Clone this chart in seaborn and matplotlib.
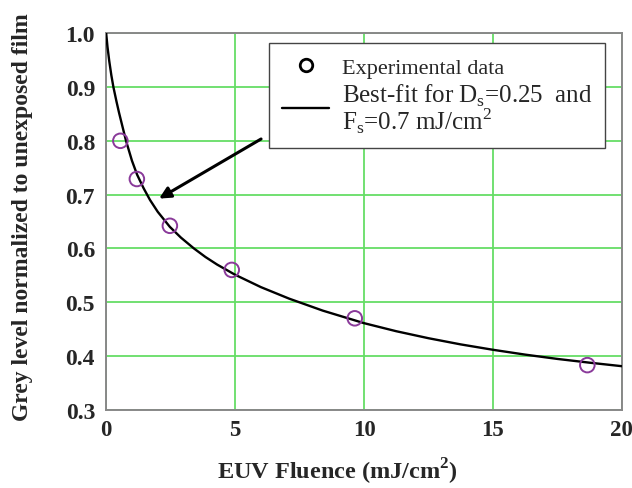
import matplotlib
matplotlib.use("Agg")
import matplotlib.pyplot as plt
import seaborn as sns
import pandas as pd
from matplotlib.lines import Line2D

# ---- data ----
exp_fluence = [0.55, 1.19, 2.47, 4.87, 9.64, 18.66]
exp_grey = [0.800, 0.729, 0.642, 0.560, 0.470, 0.383]

fit_fluence = [0.0, 0.05, 0.12, 0.2, 0.28, 0.4, 0.5, 0.65, 0.77, 1.0, 1.2, 1.45,
               1.7, 2.0, 2.47, 2.9, 3.4, 3.85, 4.3, 5.0, 6.0, 7.1, 8.4, 10.0,
               11.25, 12.5, 13.75, 15.0, 16.25, 17.5, 18.75, 20.0]
fit_grey = [1.0, 0.975, 0.948, 0.922, 0.900, 0.873, 0.852, 0.823, 0.800, 0.763,
            0.737, 0.712, 0.690, 0.668, 0.640, 0.620, 0.600, 0.584, 0.570,
            0.551, 0.528, 0.5065, 0.4843, 0.461, 0.446, 0.433, 0.4215, 0.4115,
            0.4025, 0.3945, 0.3875, 0.381]

x_ticks = [0, 5, 10, 15, 20]
y_ticks = [0.3, 0.4, 0.5, 0.6, 0.7, 0.8, 0.9, 1.0]
x_label = "EUV Fluence (mJ/cm$^\\mathregular{2}$)"
y_label = "Grey level normalized to unexposed film"
legend_labels = ["Experimental data",
                 "Best-fit for D$_\\mathregular{s}$=0.25  and\nF$_\\mathregular{s}$=0.7 mJ/cm$^\\mathregular{2}$"]

sns.set_theme(style="whitegrid")
plt.rcParams["font.family"] = ["Liberation Serif", "DejaVu Serif"]
plt.rcParams["mathtext.fontset"] = "custom"
plt.rcParams["mathtext.rm"] = "Liberation Serif"

fig = plt.figure(figsize=(6.32, 4.89), dpi=100)
ax = fig.add_axes([0.168, 0.160, 0.816, 0.770])

fit_df = pd.DataFrame({"F": fit_fluence, "G": fit_grey})
exp_df = pd.DataFrame({"F": exp_fluence, "G": exp_grey})

sns.lineplot(data=fit_df, x="F", y="G", ax=ax, color="black", linewidth=1.7,
             sort=False, zorder=3)
sns.scatterplot(data=exp_df, x="F", y="G", ax=ax, s=110, marker="o",
                facecolor="none", edgecolor="#8a3a9a", linewidth=1.4, zorder=4)

ax.set_xlim(0, 20)
ax.set_ylim(0.3, 1.0)
ax.set_xticks(x_ticks)
ax.set_yticks(y_ticks)
ax.set_xticklabels([str(t) for t in x_ticks], fontsize=16.5, fontweight="bold")
ax.set_yticklabels([f"{t:.1f}" for t in y_ticks], fontsize=17, fontweight="bold")
ax.tick_params(axis="x", length=0, pad=7)
ax.tick_params(axis="y", length=0, pad=8)
ax.grid(True, color="#66dd66", linewidth=1.3)
ax.set_facecolor("white")
for s in ax.spines.values():
    s.set_color("#888888")
    s.set_linewidth(1.4)
ax.set_xlabel(x_label, fontsize=17.5, fontweight="bold")
ax.xaxis.set_label_coords(0.448, -0.121)
ax.set_ylabel(y_label, fontsize=17, fontweight="bold")
ax.yaxis.set_label_coords(-0.141, 0.515)

handles = [Line2D([], [], marker="o", linestyle="none", markerfacecolor="none",
                  markeredgecolor="black", markersize=9, markeredgewidth=2.0),
           Line2D([], [], color="black", linewidth=1.7)]
leg = ax.legend(handles, legend_labels, loc="upper right",
                bbox_to_anchor=(0.968, 0.973), frameon=True, fancybox=False,
                edgecolor="#444444", framealpha=1, handlelength=1.9,
                handletextpad=0.52, borderpad=0.5, labelspacing=0.12,
                borderaxespad=0, prop={"size": 18})
leg.get_frame().set_linewidth(1.0)
leg.get_texts()[0].set_fontsize(16)
leg.get_texts()[1].set_linespacing(0.9)

ax.annotate("", xy=(1.96, 0.69), xytext=(6.1, 0.806),
            arrowprops=dict(arrowstyle="-|>", color="black", lw=2.2,
                            mutation_scale=17), zorder=5)

fig.savefig("out.png", dpi=100)
